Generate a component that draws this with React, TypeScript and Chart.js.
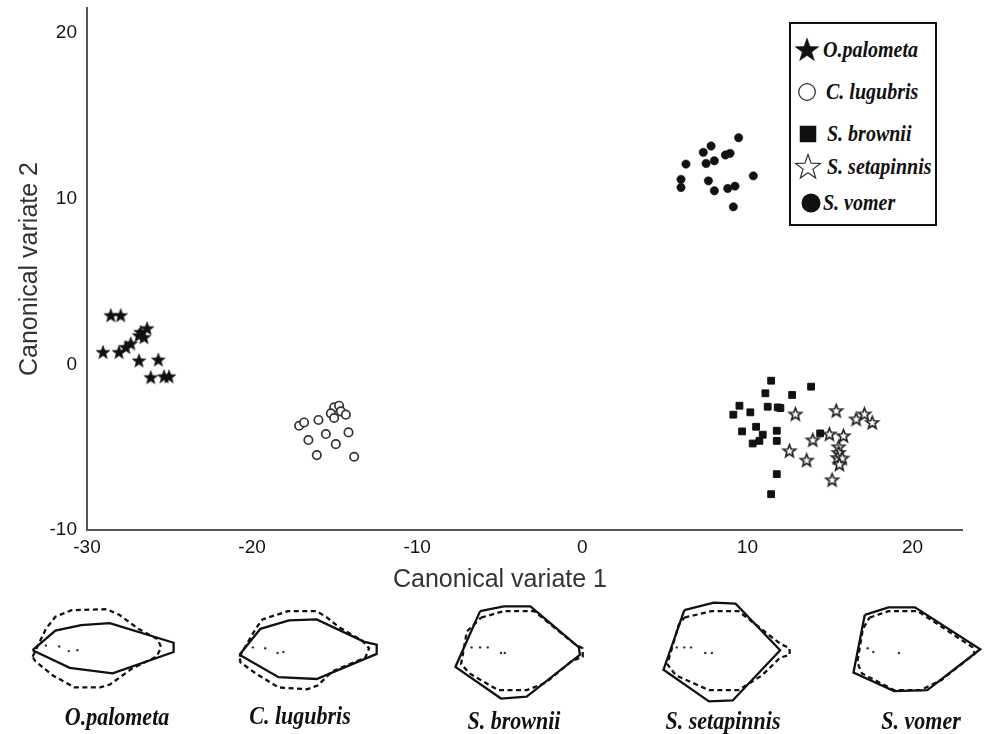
import React, { useEffect, useRef } from "react";
import { Chart, registerables } from "chart.js";
Chart.register(...registerables);

// ---------- data ----------
const xTicks = [-30, -20, -10, 0, 10, 20];
const yTicks = [-10, 0, 10, 20];
const xAxisTitle = "Canonical variate 1";
const yAxisTitle = "Canonical variate 2";
const speciesNames = ["O.palometa", "C. lugubris", "S. brownii", "S. setapinnis", "S. vomer"];

const palometaX = [-28.56, -27.96, -26.75, -26.36, -26.55, -26.85, -27.35, -27.65, -28.06, -29.03, -26.85, -25.68, -26.14, -25.33, -25.03];
const palometaY = [2.95, 2.95, 1.94, 2.16, 1.63, 1.74, 1.25, 1.03, 0.73, 0.73, 0.22, 0.27, -0.79, -0.74, -0.74];

const lugubrisX = [-17.15, -16.85, -15.98, -16.59, -15.53, -15.03, -14.73, -15.23, -15.03, -14.62, -14.32, -14.16, -14.93, -16.08, -13.82];
const lugubrisY = [-3.71, -3.51, -3.36, -4.57, -4.21, -2.6, -2.5, -2.96, -3.24, -2.84, -3.04, -4.11, -4.82, -5.48, -5.58];

const browniiX = [11.44, 13.86, 11.09, 12.71, 9.52, 9.15, 10.18, 11.23, 11.84, 12.0, 10.53, 9.68, 10.93, 11.78, 10.73, 10.32, 11.78, 14.41, 11.78, 11.44];
const browniiY = [-0.99, -1.35, -1.75, -1.85, -2.5, -3.04, -2.9, -2.56, -2.6, -2.64, -3.77, -4.05, -4.25, -4.01, -4.62, -4.78, -4.62, -4.17, -6.63, -7.84];

const setapinnisX = [12.91, 15.38, 16.59, 17.09, 17.56, 13.96, 14.97, 15.82, 12.55, 13.59, 15.53, 15.53, 15.47, 15.74, 15.58, 15.13];
const setapinnisY = [-3.0, -2.8, -3.3, -3.0, -3.51, -4.56, -4.21, -4.31, -5.22, -5.78, -4.98, -5.32, -5.63, -5.66, -6.03, -6.97];

const vomerX = [9.47, 7.8, 7.33, 6.28, 7.5, 8.0, 8.67, 8.95, 5.98, 5.98, 7.64, 8.0, 8.81, 9.25, 10.36, 9.15];
const vomerY = [13.67, 13.17, 12.79, 12.08, 12.12, 12.28, 12.63, 12.73, 11.16, 10.67, 11.07, 10.47, 10.61, 10.75, 11.37, 9.5];

// body outlines (local panel units): solid, dashed, landmark dots
const palometaSolid = [[9, 55], [33, 34], [60, 28], [90, 26], [157, 47], [157, 57], [93, 80], [48, 74], [9, 55]];
const palometaDashed = [[9, 62], [23, 32], [33, 19], [50, 12], [87, 11], [100, 17], [120, 32], [140, 43], [144, 52], [139, 62], [113, 75], [90, 92], [80, 95], [53, 95], [30, 82], [12, 67], [9, 62]];
const palometaDots = [[23, 50], [37, 51], [47, 56], [56, 55]];

const lugubrisSolid = [[11, 60], [33, 32], [63, 23], [92, 22], [142, 46], [155, 49], [155, 59], [92, 86], [52, 84], [11, 60]];
const lugubrisDashed = [[11, 62], [28, 32], [35, 22], [62, 13], [92, 13], [103, 20], [115, 30], [140, 45], [147, 53], [143, 63], [108, 78], [93, 93], [82, 97], [52, 95], [28, 80], [12, 68], [11, 62]];
const lugubrisDots = [[25, 52], [38, 53], [51, 58], [57, 57]];

const browniiSolid = [[38, 13], [63, 8], [91, 8], [142, 52], [143, 60], [87, 105], [60, 107], [12, 73], [38, 13]];
const browniiDashed = [[39, 20], [63, 13], [95, 13], [137, 48], [146, 53], [146, 62], [134, 67], [107, 90], [87, 98], [57, 98], [27, 80], [18, 70], [24, 35], [39, 20]];
const browniiDots = [[29, 52], [38, 52], [46, 52], [60, 58], [64, 58]];

const setapinnisSolid = [[32, 12], [63, 4], [86, 5], [133, 55], [83, 109], [58, 110], [10, 76], [32, 12]];
const setapinnisDashed = [[32, 20], [61, 13], [89, 13], [133, 48], [143, 53], [143, 60], [133, 63], [114, 82], [89, 98], [58, 98], [23, 82], [14, 70], [26, 28], [32, 20]];
const setapinnisDots = [[24, 52], [32, 52], [39, 52], [54, 58], [61, 58]];

const vomerSolid = [[22, 17], [47, 9], [75, 9], [144, 54], [88, 98], [53, 99], [10, 79], [22, 17]];
const vomerDashed = [[27, 20], [47, 13], [78, 13], [136, 52], [138, 59], [103, 87], [81, 98], [53, 98], [19, 80], [14, 68], [20, 32], [27, 20]];
const vomerDots = [[25, 53], [31, 57], [58, 58]];

// ---------- layout ----------
const W = 989;
const MAIN_H = 600;
const PANEL_TOP = 595;
const PANEL_H = 115;
const panels = [
  { left: 20, width: 170, solid: palometaSolid, dashed: palometaDashed, dots: palometaDots, lx: 117, ly: 717 },
  { left: 225, width: 170, solid: lugubrisSolid, dashed: lugubrisDashed, dots: lugubrisDots, lx: 300, ly: 716 },
  { left: 440, width: 160, solid: browniiSolid, dashed: browniiDashed, dots: browniiDots, lx: 514, ly: 721 },
  { left: 650, width: 155, solid: setapinnisSolid, dashed: setapinnisDashed, dots: setapinnisDots, lx: 723, ly: 721 },
  { left: 840, width: 149, solid: vomerSolid, dashed: vomerDashed, dots: vomerDots, lx: 921, ly: 721 },
];

const SANS = '"Liberation Sans", Arial, Helvetica, sans-serif';
const SERIF = '"Liberation Serif", "Times New Roman", serif';
const INK = "#111";

function starPoints(outer: number, inner: number, cx: number, cy: number) {
  const pts: number[][] = [];
  for (let i = 0; i < 10; i++) {
    const r = i % 2 === 0 ? outer : inner;
    const a = -Math.PI / 2 + (i * Math.PI) / 5;
    pts.push([cx + r * Math.cos(a), cy + r * Math.sin(a)]);
  }
  return pts;
}

function makeStar(outer: number, inner: number, fill: string, stroke: string, lw: number) {
  const size = Math.ceil(outer * 2 + lw * 2 + 2);
  const c = document.createElement("canvas");
  c.width = size;
  c.height = size;
  const ctx = c.getContext("2d")!;
  ctx.beginPath();
  starPoints(outer, inner, size / 2, size / 2 + 0.5).forEach(([x, y], i) => (i ? ctx.lineTo(x, y) : ctx.moveTo(x, y)));
  ctx.closePath();
  ctx.fillStyle = fill;
  ctx.fill();
  if (lw > 0) {
    ctx.lineWidth = lw;
    ctx.strokeStyle = stroke;
    ctx.lineJoin = "miter";
    ctx.stroke();
  }
  return c;
}

const toXY = (xs: number[], ys: number[]) => xs.map((x, i) => ({ x, y: ys[i] }));
const toPts = (arr: number[][]) => arr.map(([x, y]) => ({ x, y }));

function MainChart() {
  const ref = useRef<HTMLCanvasElement | null>(null);
  useEffect(() => {
    if (!ref.current) return;
    const filledStar = makeStar(7.2, 3, INK, INK, 0.6);
    const openStar = makeStar(6.5, 2.8, "#fff", "#222", 1.7);
    const chart = new Chart(ref.current, {
      type: "scatter",
      data: {
        datasets: [
          { label: speciesNames[2], data: toXY(browniiX, browniiY), pointStyle: "rect", pointRadius: 4.8, backgroundColor: INK, borderColor: INK, borderWidth: 1 },
          { label: speciesNames[3], data: toXY(setapinnisX, setapinnisY), pointStyle: openStar as any, pointRadius: 6 },
          { label: speciesNames[0], data: toXY(palometaX, palometaY), pointStyle: filledStar as any, pointRadius: 6 },
          { label: speciesNames[1], data: toXY(lugubrisX, lugubrisY), pointStyle: "circle", pointRadius: 4.2, backgroundColor: "#fff", borderColor: "#333", borderWidth: 1.7 },
          { label: speciesNames[4], data: toXY(vomerX, vomerY), pointStyle: "circle", pointRadius: 4.2, backgroundColor: INK, borderColor: INK, borderWidth: 0.5 },
        ],
      },
      options: {
        animation: false,
        responsive: false,
        maintainAspectRatio: false,
        layout: { padding: { left: 0, right: 27, top: 8, bottom: 0 } },
        plugins: { legend: { display: false }, tooltip: { enabled: false } },
        scales: {
          x: {
            type: "linear",
            min: -30,
            max: 23,
            afterBuildTicks: (s: any) => {
              s.ticks = xTicks.map((v) => ({ value: v }));
            },
            afterFit: (s: any) => {
              s.height = 70;
              s.paddingLeft = 0;
              s.paddingRight = 0;
            },
            grid: { display: false, drawTicks: false },
            border: { display: true, color: "#555", width: 2 },
            ticks: { padding: 6, autoSkip: false, maxRotation: 0, color: "#151515", font: { family: SANS, size: 19 } },
          },
          y: {
            type: "linear",
            min: -10,
            max: 21.5,
            afterBuildTicks: (s: any) => {
              s.ticks = yTicks.map((v) => ({ value: v }));
            },
            afterFit: (s: any) => {
              s.width = 87;
              s.paddingTop = 0;
              s.paddingBottom = 0;
            },
            grid: { display: false, drawTicks: false },
            border: { display: true, color: "#555", width: 2 },
            ticks: { padding: 10, color: "#151515", font: { family: SANS, size: 19 } },
            title: { display: true, text: yAxisTitle, color: "#333", font: { family: SANS, size: 25 }, padding: { top: 15, bottom: 0 } },
          },
        },
      },
    });
    return () => chart.destroy();
  }, []);
  return <canvas ref={ref} width={W} height={MAIN_H} style={{ position: "absolute", left: 0, top: 0, width: W, height: MAIN_H }} />;
}

function OutlinePanel({ p }: { p: (typeof panels)[number] }) {
  const ref = useRef<HTMLCanvasElement | null>(null);
  useEffect(() => {
    if (!ref.current) return;
    const chart = new Chart(ref.current, {
      type: "scatter",
      data: {
        datasets: [
          { data: toPts(p.solid), showLine: true, borderColor: INK, borderWidth: 2.3, pointRadius: 0, fill: false, tension: 0 },
          { data: toPts(p.dashed), showLine: true, borderColor: INK, borderWidth: 2.3, borderDash: [5, 3.5], pointRadius: 0, fill: false, tension: 0 },
          { data: toPts(p.dots), showLine: false, pointRadius: 1.2, backgroundColor: "#333", borderWidth: 0 },
        ],
      },
      options: {
        animation: false,
        responsive: false,
        maintainAspectRatio: false,
        layout: { padding: 0 },
        plugins: { legend: { display: false }, tooltip: { enabled: false } },
        scales: {
          x: { type: "linear", display: false, min: 0, max: p.width },
          y: { type: "linear", display: false, min: 0, max: PANEL_H, reverse: true },
        },
      },
    });
    return () => chart.destroy();
  }, [p]);
  return (
    <canvas
      ref={ref}
      width={p.width}
      height={PANEL_H}
      style={{ position: "absolute", left: p.left, top: PANEL_TOP, width: p.width, height: PANEL_H }}
    />
  );
}

function svgStar(outer: number, inner: number, fill: string, stroke: string, lw: number) {
  const s = outer * 2 + lw * 2 + 2;
  const pts = starPoints(outer, inner, s / 2, s / 2 + 0.5).map(([x, y]) => `${x.toFixed(2)},${y.toFixed(2)}`).join(" ");
  return (
    <svg width={s} height={s} style={{ display: "block" }}>
      <polygon points={pts} fill={fill} stroke={stroke} strokeWidth={lw} strokeLinejoin="miter" />
    </svg>
  );
}

function Legend() {
  const items = [
    { cx: 807, cy: 50, tx: 823, sym: svgStar(12.5, 5, INK, INK, 0.5) },
    {
      cx: 807, cy: 92, tx: 826,
      sym: (
        <svg width={20} height={20} style={{ display: "block" }}>
          <circle cx={10} cy={10} r={8.3} fill="#fff" stroke="#333" strokeWidth={1.3} />
        </svg>
      ),
    },
    {
      cx: 807.5, cy: 133.5, tx: 827,
      sym: (
        <svg width={17} height={17} style={{ display: "block" }}>
          <rect x={0} y={0} width={17} height={17} fill={INK} />
        </svg>
      ),
    },
    { cx: 808, cy: 167, tx: 827, sym: svgStar(13, 5.3, "#fff", "#333", 1.2) },
    {
      cx: 810.5, cy: 202.5, tx: 823,
      sym: (
        <svg width={20} height={20} style={{ display: "block" }}>
          <circle cx={10} cy={10} r={9.5} fill={INK} />
        </svg>
      ),
    },
  ];
  return (
    <>
      <div style={{ position: "absolute", left: 789, top: 22, width: 148, height: 204, boxSizing: "border-box", border: "2px solid #111", background: "#fff" }} />
      {items.map((it, i) => (
        <React.Fragment key={i}>
          <div style={{ position: "absolute", left: it.cx, top: it.cy, transform: "translate(-50%, -50%)" }}>{it.sym}</div>
          <div
            style={{
              position: "absolute",
              left: it.tx,
              top: it.cy - 12,
              height: 24,
              lineHeight: "24px",
              font: `italic bold 20px ${SERIF}`,
              color: INK,
              whiteSpace: "nowrap",
              transform: "scaleY(1.2)",
              transformOrigin: "left center",
            }}
          >
            {speciesNames[i]}
          </div>
        </React.Fragment>
      ))}
    </>
  );
}

export default function App() {
  return (
    <div style={{ position: "fixed", left: 0, top: 0, width: W, height: 734, background: "#fff", overflow: "hidden" }}>
      <MainChart />
      <div
        style={{
          position: "absolute",
          left: 500,
          top: 578,
          transform: "translate(-50%, -50%)",
          font: `25px ${SANS}`,
          color: "#333",
          whiteSpace: "nowrap",
        }}
      >
        {xAxisTitle}
      </div>
      <Legend />
      {panels.map((p, i) => (
        <OutlinePanel key={i} p={p} />
      ))}
      {panels.map((p, i) => (
        <div
          key={"l" + i}
          style={{
            position: "absolute",
            left: p.lx,
            top: p.ly,
            transform: "translate(-50%, -50%) scaleY(1.18)",
            font: `italic bold 22px ${SERIF}`,
            color: INK,
            whiteSpace: "nowrap",
          }}
        >
          {speciesNames[i]}
        </div>
      ))}
    </div>
  );
}
